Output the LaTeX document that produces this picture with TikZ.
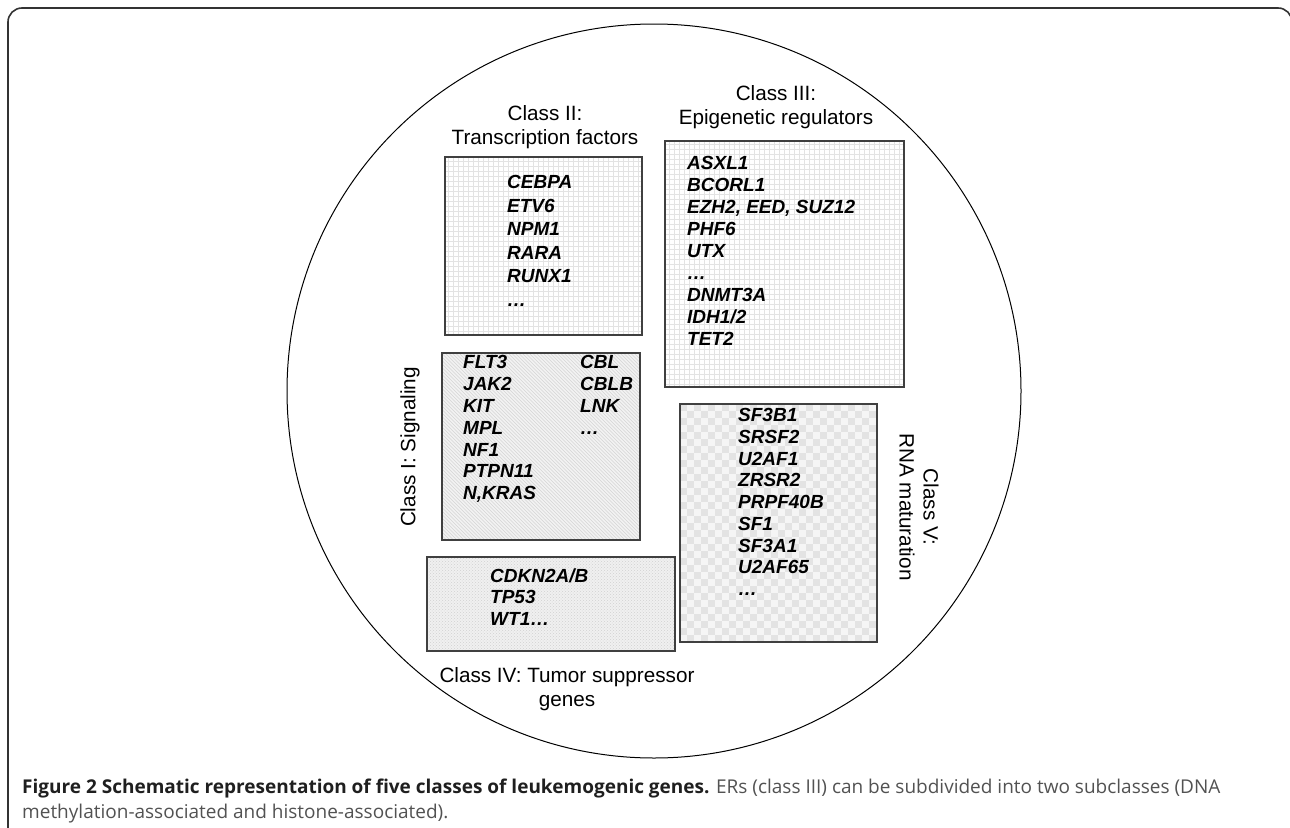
\documentclass[tikz,border=0pt]{standalone}
\usepackage{fontspec}
\setmainfont{Liberation Sans}
\newfontfamily\capfont{Open Sans}
\usetikzlibrary{patterns}
\begin{document}
\begin{tikzpicture}[x=1pt,y=-1pt,
  lbl/.style={font=\fontsize{20.7}{24}\selectfont, align=center, inner sep=0pt},
  genes/.style={font=\fontsize{19}{22}\selectfont\bfseries\itshape, align=left, inner sep=0pt, anchor=north west},
  genebox/.style={draw=black!75, line width=1.2pt, inner sep=0pt, outer sep=0pt, fill=white},
  gridfill/.style={path picture={\draw[black!11, line width=0.6pt, step=5pt] ([shift={(-5,5)}]path picture bounding box.south west) grid ([shift={(5,-5)}]path picture bounding box.north east);}},
  hatchfill/.style={fill=black!5, path picture={\foreach \i in {-200,-196.5,...,200} \draw[black!17, line width=0.6pt] ([xshift=\i pt]path picture bounding box.north west) -- ++(200,200);}},
  dotfill/.style={fill=black!6, path picture={\fill[pattern=crosshatch dots, pattern color=black!18] (path picture bounding box.south west) rectangle (path picture bounding box.north east);}},
  checkfill/.style={fill=black!4, path picture={\foreach \i in {0,...,14} \foreach \j in {0,...,17} {\fill[black!11] ([shift={(14*\i,14*\j)}]path picture bounding box.north west) rectangle ++(7,7); \fill[black!11] ([shift={(14*\i+7,14*\j+7)}]path picture bounding box.north west) rectangle ++(7,7);}}},
  capt/.style={font=\capfont\fontsize{19}{25}\selectfont, inner sep=0pt, anchor=base west, text=black!68}]
\useasboundingbox (0,0) rectangle (1290,827);
\begin{scope}
  \clip (0,0) rectangle (1290,827);
  \draw[black!80, line width=1.6pt, rounded corners=14pt] (8,8) rectangle (1292,845);
\end{scope}
\draw[black, line width=1pt] (654,391) circle[radius=367];

% boxes
\node[genebox, gridfill, minimum width=197pt, minimum height=178pt] (b2) at (543.5,246) {};
\node[genebox, gridfill, minimum width=239pt, minimum height=246pt] (b3) at (784.5,264) {};
\node[genebox, hatchfill, minimum width=198pt, minimum height=187pt] (b1) at (541,446.5) {};
\node[genebox, dotfill, minimum width=248pt, minimum height=94pt] (b4) at (551,604) {};
\node[genebox, checkfill, minimum width=197pt, minimum height=238pt] (b5) at (778.5,523) {};

% gene lists
\node[genes, font=\fontsize{19}{23.5}\selectfont\bfseries\itshape] (g2) at (507,175.4) {CEBPA\\ETV6\\NPM1\\RARA\\RUNX1\\\dots};
\node[genes] (g3) at (687,156) {ASXL1\\BCORL1\\EZH2, EED, SUZ12\\PHF6\\UTX\\\dots\\DNMT3A\\IDH1/2\\TET2};
\node[genes, font=\fontsize{19}{21.8}\selectfont\bfseries\itshape] (g1a) at (463,355.4) {FLT3\\JAK2\\KIT\\MPL\\NF1\\PTPN11\\N,KRAS};
\node[genes, font=\fontsize{19}{21.8}\selectfont\bfseries\itshape] (g1b) at (580,355.4) {CBL\\CBLB\\LNK\\\dots};
\node[genes, font=\fontsize{19}{21.5}\selectfont\bfseries\itshape] (g4) at (490,568.4) {CDKN2A/B\\TP53\\WT1\dots};
\node[genes, font=\fontsize{19}{21.7}\selectfont\bfseries\itshape] (g5) at (738,408.4) {SF3B1\\SRSF2\\U2AF1\\ZRSR2\\PRPF40B\\SF1\\SF3A1\\U2AF65\\\dots};

% class labels
\node[lbl, anchor=north] (l2) at (545,105.5) {Class II:\\Transcription factors};
\node[lbl, anchor=north] (l3) at (776,85.5) {Class III:\\Epigenetic regulators};
\node[lbl, anchor=north] (l4) at (567,667) {Class IV: Tumor suppressor\\genes};
\node[lbl, rotate=90] (l1) at (410,447) {Class I: Signaling};
\node[lbl, rotate=-90] (l5) at (919,507) {Class V:\\RNA maturation};

% caption
\node[capt] (c1) at (22,793) {{\bfseries\color{black!88}Figure 2 Schematic representation of five classes of leukemogenic genes.} ERs (class III) can be subdivided into two subclasses (DNA};
\node[capt] (c2) at (22,818) {methylation-associated and histone-associated).};
\end{tikzpicture}
\end{document}
